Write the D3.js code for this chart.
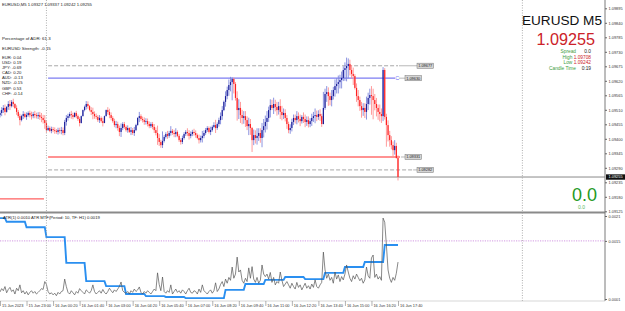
<!DOCTYPE html>
<html><head><meta charset="utf-8">
<script src="https://cdn.jsdelivr.net/npm/d3@7"></script>
<style>html,body{margin:0;padding:0;background:#fff;overflow:hidden}svg{display:block}text{font-family:"Liberation Sans",Arial,sans-serif}</style>
</head><body><svg id="c" width="625" height="311"></svg>
<script>
// ---------------- DATA ----------------
const symbol = "EURUSD";
const timeframe = "M5";
const firstOpen = 1.09490;
const closes = [1.09498,1.09509,1.09517,1.09502,1.09521,1.09532,1.09524,1.09540,1.09532,1.09517,
1.09502,1.09486,1.09471,1.09486,1.09494,1.09483,1.09490,1.09498,1.09490,1.09486,
1.09494,1.09490,1.09486,1.09490,1.09483,1.09479,1.09471,1.09460,1.09433,1.09441,
1.09430,1.09437,1.09433,1.09430,1.09426,1.09433,1.09430,1.09433,1.09422,1.09464,
1.09479,1.09486,1.09494,1.09490,1.09483,1.09498,1.09486,1.09475,1.09460,1.09486,
1.09509,1.09521,1.09532,1.09524,1.09509,1.09502,1.09494,1.09486,1.09483,1.09471,
1.09479,1.09467,1.09460,1.09486,1.09509,1.09502,1.09490,1.09479,1.09467,1.09452,
1.09456,1.09441,1.09426,1.09441,1.09456,1.09445,1.09433,1.09441,1.09426,1.09433,
1.09422,1.09433,1.09452,1.09479,1.09486,1.09475,1.09471,1.09464,1.09467,1.09456,
1.09448,1.09456,1.09445,1.09433,1.09422,1.09403,1.09388,1.09376,1.09392,1.09407,
1.09418,1.09411,1.09422,1.09430,1.09422,1.09418,1.09426,1.09411,1.09395,1.09388,
1.09403,1.09418,1.09426,1.09422,1.09411,1.09418,1.09426,1.09422,1.09414,1.09403,
1.09395,1.09403,1.09411,1.09422,1.09433,1.09441,1.09426,1.09433,1.09445,1.09452,
1.09441,1.09456,1.09471,1.09486,1.09509,1.09540,1.09562,1.09585,1.09604,1.09615,
1.09627,1.09608,1.09555,1.09509,1.09517,1.09490,1.09479,1.09486,1.09471,1.09448,
1.09456,1.09441,1.09395,1.09414,1.09403,1.09411,1.09422,1.09403,1.09433,1.09448,
1.09464,1.09479,1.09509,1.09528,1.09517,1.09532,1.09521,1.09509,1.09524,1.09502,
1.09490,1.09498,1.09479,1.09456,1.09433,1.09441,1.09464,1.09479,1.09471,1.09486,
1.09475,1.09467,1.09483,1.09475,1.09464,1.09471,1.09456,1.09467,1.09479,1.09486,
1.09490,1.09483,1.09494,1.09486,1.09456,1.09517,1.09570,1.09577,1.09562,1.09547,
1.09562,1.09585,1.09600,1.09608,1.09615,1.09623,1.09631,1.09661,1.09668,1.09676,
1.09684,1.09661,1.09646,1.09638,1.09593,1.09562,1.09547,1.09524,1.09509,1.09517,
1.09502,1.09532,1.09555,1.09566,1.09562,1.09547,1.09532,1.09517,1.09502,1.09494,
1.09486,1.09661,1.09483,1.09452,1.09414,1.09395,1.09376,1.09357,1.09373,1.09327,
1.09255];
const highs = [1.09508,1.09520,1.09528,1.09530,1.09524,1.09543,1.09547,1.09547,1.09552,1.09535,
1.09527,1.09509,1.09495,1.09491,1.09505,1.09500,1.09500,1.09504,1.09507,1.09503,
1.09502,1.09506,1.09499,1.09501,1.09502,1.09498,1.09491,1.09490,1.09468,1.09450,
1.09447,1.09446,1.09445,1.09443,1.09437,1.09442,1.09442,1.09445,1.09443,1.09472,
1.09490,1.09495,1.09501,1.09506,1.09499,1.09501,1.09506,1.09492,1.09482,1.09488,
1.09511,1.09526,1.09543,1.09542,1.09528,1.09520,1.09518,1.09504,1.09496,1.09490,
1.09490,1.09485,1.09480,1.09488,1.09511,1.09520,1.09514,1.09500,1.09486,1.09476,
1.09468,1.09465,1.09450,1.09458,1.09463,1.09464,1.09451,1.09451,1.09444,1.09445,
1.09441,1.09445,1.09457,1.09482,1.09502,1.09493,1.09484,1.09481,1.09478,1.09477,
1.09466,1.09463,1.09464,1.09456,1.09443,1.09450,1.09418,1.09396,1.09428,1.09414,
1.09425,1.09430,1.09430,1.09448,1.09437,1.09434,1.09440,1.09432,1.09418,1.09402,
1.09412,1.09425,1.09433,1.09440,1.09433,1.09428,1.09434,1.09438,1.09432,1.09420,
1.09416,1.09412,1.09430,1.09432,1.09441,1.09448,1.09447,1.09446,1.09451,1.09463,
1.09472,1.09462,1.09480,1.09500,1.09524,1.09545,1.09580,1.09598,1.09625,1.09635,
1.09633,1.09632,1.09615,1.09580,1.09550,1.09540,1.09510,1.09505,1.09505,1.09485,
1.09480,1.09475,1.09445,1.09435,1.09432,1.09440,1.09440,1.09440,1.09460,1.09475,
1.09488,1.09505,1.09522,1.09550,1.09548,1.09556,1.09548,1.09540,1.09540,1.09550,
1.09525,1.09515,1.09512,1.09490,1.09465,1.09455,1.09476,1.09492,1.09492,1.09505,
1.09500,1.09492,1.09490,1.09500,1.09492,1.09485,1.09485,1.09478,1.09495,1.09502,
1.09515,1.09507,1.09508,1.09512,1.09495,1.09578,1.09590,1.09600,1.09595,1.09575,
1.09585,1.09597,1.09625,1.09630,1.09640,1.09643,1.09655,1.09675,1.09690,1.09708,
1.09705,1.09700,1.09680,1.09670,1.09645,1.09610,1.09585,1.09560,1.09540,1.09535,
1.09535,1.09560,1.09575,1.09590,1.09600,1.09590,1.09570,1.09555,1.09530,1.09530,
1.09515,1.09672,1.09668,1.09495,1.09470,1.09430,1.09410,1.09390,1.09395,1.09385,
1.09337];
const lows = [1.09481,1.09486,1.09498,1.09489,1.09499,1.09510,1.09509,1.09519,1.09520,1.09513,
1.09491,1.09479,1.09451,1.09466,1.09475,1.09478,1.09472,1.09484,1.09481,1.09473,
1.09478,1.09478,1.09477,1.09475,1.09472,1.09463,1.09458,1.09438,1.09423,1.09430,
1.09425,1.09421,1.09425,1.09419,1.09419,1.09416,1.09420,1.09417,1.09413,1.09414,
1.09450,1.09469,1.09479,1.09476,1.09474,1.09481,1.09478,1.09468,1.09447,1.09458,
1.09485,1.09504,1.09511,1.09514,1.09504,1.09490,1.09474,1.09476,1.09474,1.09464,
1.09460,1.09461,1.09447,1.09459,1.09485,1.09492,1.09478,1.09470,1.09461,1.09444,
1.09440,1.09431,1.09410,1.09407,1.09433,1.09438,1.09427,1.09423,1.09422,1.09414,
1.09415,1.09411,1.09429,1.09450,1.09463,1.09468,1.09462,1.09453,1.09454,1.09447,
1.09440,1.09441,1.09436,1.09422,1.09413,1.09377,1.09373,1.09366,1.09365,1.09386,
1.09401,1.09400,1.09404,1.09412,1.09415,1.09406,1.09406,1.09406,1.09388,1.09378,
1.09380,1.09397,1.09411,1.09410,1.09397,1.09402,1.09410,1.09412,1.09404,1.09398,
1.09382,1.09386,1.09386,1.09402,1.09415,1.09426,1.09420,1.09414,1.09427,1.09440,
1.09422,1.09434,1.09446,1.09455,1.09472,1.09505,1.09522,1.09550,1.09563,1.09580,
1.09546,1.09572,1.09545,1.09469,1.09475,1.09460,1.09455,1.09457,1.09445,1.09433,
1.09414,1.09415,1.09350,1.09376,1.09382,1.09378,1.09392,1.09385,1.09368,1.09405,
1.09424,1.09435,1.09464,1.09481,1.09509,1.09494,1.09504,1.09488,1.09492,1.09475,
1.09470,1.09475,1.09466,1.09438,1.09421,1.09419,1.09428,1.09452,1.09458,1.09455,
1.09462,1.09448,1.09458,1.09460,1.09444,1.09449,1.09443,1.09444,1.09449,1.09464,
1.09459,1.09467,1.09472,1.09468,1.09445,1.09455,1.09510,1.09540,1.09525,1.09527,
1.09523,1.09549,1.09560,1.09572,1.09572,1.09591,1.09591,1.09619,1.09620,1.09618,
1.09630,1.09640,1.09628,1.09604,1.09587,1.09540,1.09523,1.09506,1.09480,1.09487,
1.09479,1.09473,1.09509,1.09530,1.09491,1.09474,1.09508,1.09485,1.09472,1.09466,
1.09460,1.09467,1.09473,1.09370,1.09390,1.09370,1.09360,1.09328,1.09340,1.09325,
1.09242];
// ATR(1) per bar
const atr1 = [0.00027,0.00035,0.00030,0.00040,0.00025,0.00033,0.00038,0.00028,0.00032,0.00022,0.00036,0.00030,0.00044,0.00025,0.00030,0.00022,0.00028,0.00020,0.00026,0.00030,0.00024,0.00028,0.00022,0.00026,0.00030,0.00035,0.00033,0.00052,
0.00045,0.00028,0.00022,0.00025,0.00020,0.00024,0.00018,0.00026,0.00022,0.00028,0.00030,0.00058,0.00040,0.00026,0.00022,0.00030,0.00025,0.00020,0.00028,0.00024,
0.00035,0.00030,0.00026,0.00022,0.00032,0.00028,0.00024,0.00030,0.00044,0.00028,0.00022,0.00026,0.00030,0.00024,0.00033,0.00026,0.00022,0.00028,0.00036,0.00030,0.00025,0.00032,0.00028,0.00034,0.00040,0.00051,0.00030,0.00026,
0.00024,0.00028,0.00022,0.00030,0.00026,0.00034,0.00028,0.00032,0.00039,0.00026,0.00022,0.00028,0.00024,0.00030,0.00026,0.00022,0.00028,0.00034,0.00030,0.00073,0.00045,0.00030,0.00063,0.00028,0.00024,
0.00030,0.00026,0.00044,0.00022,0.00028,0.00034,0.00026,0.00030,0.00024,0.00032,0.00028,0.00022,0.00030,0.00036,0.00026,0.00024,0.00030,0.00028,0.00022,0.00034,0.00026,0.00044,0.00030,0.00026,0.00022,0.00028,0.00032,0.00024,0.00030,0.00049,0.00028,0.00034,
0.00045,0.00052,0.00040,0.00058,0.00048,0.00062,0.00055,0.00087,0.00060,0.00070,0.00111,0.00075,0.00080,0.00055,0.00048,0.00060,0.00052,0.00085,0.00060,0.00088,0.00058,0.00050,0.00062,0.00048,0.00055,0.00092,0.00070,0.00064,
0.00070,0.00058,0.00074,0.00050,0.00062,0.00044,0.00052,0.00048,0.00075,0.00055,0.00040,0.00046,0.00052,0.00044,0.00036,0.00048,0.00040,0.00034,0.00050,0.00038,0.00044,0.00032,0.00040,0.00048,0.00036,0.00042,0.00034,0.00046,0.00038,0.00056,0.00040,0.00036,0.00044,0.00050,
0.00123,0.00080,0.00060,0.00070,0.00055,0.00062,0.00048,0.00075,0.00058,0.00068,0.00052,0.00064,0.00056,0.00070,0.00092,0.00075,0.00060,0.00052,0.00066,0.00058,0.00070,0.00062,0.00054,0.00060,0.00048,0.00056,0.00087,0.00066,0.00060,0.00109,0.00116,0.00062,0.00070,0.00058,0.00064,0.00055,0.00205,0.00195,0.00140,0.00080,0.00060,0.00050,0.00062,0.00055,0.00072,0.00099];
// ATR MTF (H1) one value per hour, 15 Jun 21:00 .. 16 Jun 17:00
const mtfHours = ["21:00","22:00","23:00","00:00","01:00","02:00","03:00","04:00","05:00","06:00","07:00","08:00","09:00","10:00","11:00","12:00","13:00","14:00","15:00","16:00","17:00"];
const mtfValues = [0.00205,0.00196,0.00183,0.00159,0.00097,0.00053,0.00041,0.00022,0.00017,0.00015,0.00012,0.00012,0.00032,0.00046,0.00056,0.00063,0.00058,0.00073,0.00087,0.00099,0.00140];
const firstBarMinute = 40; // first bar opens at 21:40
const tickBars = [0,16,32,48,64,80,96,112,128,144,160,176,192,208,224,240];
const tickLabels = ["15 Jun 2023","15 Jun 23:00","16 Jun 00:20","16 Jun 01:40","16 Jun 03:00","16 Jun 04:20","16 Jun 05:40","16 Jun 07:00","16 Jun 08:20","16 Jun 09:40","16 Jun 11:00","16 Jun 12:20","16 Jun 13:40","16 Jun 15:00","16 Jun 16:20","16 Jun 17:40"];
const priceTicks = [1.09895,1.09840,1.09785,1.09730,1.09675,1.09620,1.09565,1.09510,1.09455,1.09400,1.09345,1.09290,1.09235,1.09180,1.09125];
const indTicks = [0.0021,0.0015,0.0001];
const indLevel = 0.0015;
const currentPrice = 1.09255;
const levelPrices = [1.09677,1.09630,1.09331,1.09282];
const levelLabels = ["1.09677","1.09630","1.09331","1.09282"];
const prevLevel = 1.09172;
const dayStartBar = 28;
const shiftBar = 315;
const currencies = ["EUR","USD","JPY","CAD","AUD","NZD","GBP","CHF"];
const strengths = [0.04,0.19,-0.69,0.20,-0.13,-0.15,0.53,-0.14];
const adrPct = 61.3;
const pairStrength = -0.15;
const ohlcHeader = [1.09327,1.09337,1.09242,1.09255];
const dayHigh = 1.09708, dayLow = 1.09242, spread = "0.0", candleTime = "0:19";
const atr1Now = "0.0010", mtfNow = "0.0019";

// ---------------- CHART ----------------
const W=625,H=311, axisX=605;
const svg=d3.select("#c");
svg.append("rect").attr("width",W).attr("height",H).attr("fill","#fff");
const x=d3.scaleLinear().domain([0,240]).range([0,398]);
const y=d3.scaleLinear().domain([1.09125,1.09895]).range([211.3,8.3]);
const yi=d3.scaleLinear().domain([0.0001,0.0021]).range([299,216]);

const defs=svg.append("defs");
defs.append("clipPath").attr("id","cm").append("rect").attr("x",0).attr("y",0).attr("width",axisX).attr("height",212);
defs.append("clipPath").attr("id","ci").append("rect").attr("x",0).attr("y",213).attr("width",axisX).attr("height",88);

const main=svg.append("g").attr("clip-path","url(#cm)");
const ind=svg.append("g").attr("clip-path","url(#ci)");

// vertical dotted separators
[dayStartBar, shiftBar].forEach(b=>{
  svg.append("line").attr("x1",x(b)).attr("x2",x(b)).attr("y1",0).attr("y2",301)
    .attr("stroke","#9a9a9a").attr("stroke-width",0.8).attr("stroke-dasharray","1,1.5");
});

// levels
const lvlStyle=[
  {c:"#a8a8a8",w:1,d:"4,2",end:240,box:19},
  {c:"#7c7cf2",w:1.3,d:null,end:238.2,box:7},
  {c:"#ff6e6e",w:1.3,d:null,end:241.2,box:7},
  {c:"#a8a8a8",w:1,d:"4,2",end:248.5,box:19}
];
levelPrices.forEach((p,k)=>{
  const s=lvlStyle[k];
  const l=main.append("line").attr("x1",x(29)).attr("x2",x(s.end)).attr("y1",y(p)).attr("y2",y(p))
    .attr("stroke",s.c).attr("stroke-width",s.w);
  if(s.d) l.attr("stroke-dasharray",s.d);
  const bx=x(240)+s.box;
  main.append("line").attr("x1",x(s.end)+ (k==1?4:1)).attr("x2",bx).attr("y1",y(p)).attr("y2",y(p)).attr("stroke","#888").attr("stroke-width",0.6);
  main.append("rect").attr("x",bx).attr("y",y(p)-2.6).attr("width",16.5).attr("height",5.2)
    .attr("fill","#d4d4d4").attr("stroke","#777").attr("stroke-width",0.5);
  main.append("text").attr("x",bx+8.25).attr("y",y(p)+1.4).attr("text-anchor","middle")
    .attr("font-size",3.9).attr("fill","#222").text(levelLabels[k]);
});
main.append("text").attr("x",x(239.5)).attr("y",y(levelPrices[1])+1.9).attr("text-anchor","middle")
  .attr("font-size",5.4).attr("fill","#6c6cf0").text("C");
main.append("line").attr("x1",x(0)).attr("x2",x(26.5)).attr("y1",y(prevLevel)).attr("y2",y(prevLevel))
  .attr("stroke","#ff6060").attr("stroke-width",1.2);

// current price line
main.append("line").attr("x1",0).attr("x2",axisX).attr("y1",y(currentPrice)).attr("y2",y(currentPrice))
  .attr("stroke","#8a8a8a").attr("stroke-width",1);

// candles
const bars=closes.map((c,i)=>({i,o:i===0?firstOpen:closes[i-1],c,h:highs[i],l:lows[i]}));
const cg=main.append("g");
cg.selectAll("line.w").data(bars).join("line").attr("class","w")
  .attr("x1",d=>x(d.i)).attr("x2",d=>x(d.i)).attr("y1",d=>y(d.h)).attr("y2",d=>y(d.l))
  .attr("stroke",d=>d.c>=d.o?"#7f88dc":"#ff9090").attr("stroke-width",0.9);
cg.selectAll("rect.b").data(bars).join("rect").attr("class","b")
  .attr("x",d=>x(d.i)-0.6).attr("width",1.2)
  .attr("y",d=>Math.min(y(d.o),y(d.c)))
  .attr("height",d=>Math.max(0.8,Math.abs(y(d.o)-y(d.c))))
  .attr("fill",d=>d.c>=d.o?"#1a1e98":"#ff2020");

// separator between panes
svg.append("line").attr("x1",0).attr("x2",axisX).attr("y1",212.5).attr("y2",212.5).attr("stroke","#8a8a8a").attr("stroke-width",2);

// indicator pane
ind.append("line").attr("x1",0).attr("x2",axisX).attr("y1",yi(indLevel)).attr("y2",yi(indLevel))
  .attr("stroke","#c77ddb").attr("stroke-width",0.8).attr("stroke-dasharray","1.2,1.2");
const mtfBar=closes.map((c,i)=>mtfValues[Math.floor((i+firstBarMinute/5)/12)]);
ind.append("path").datum(mtfBar).attr("fill","none").attr("stroke","#2a8ff0").attr("stroke-width",1.9)
  .attr("d",d3.line().x((d,i)=>x(i)).y(d=>yi(d)));
ind.append("path").datum(atr1).attr("fill","none").attr("stroke","#555").attr("stroke-width",0.7)
  .attr("d",d3.line().x((d,i)=>x(i)).y(d=>yi(d)));
svg.append("text").attr("x",3).attr("y",218.6).attr("font-size",4.2).attr("fill","#222")
  .text(`ATR(1) ${atr1Now}  ATR MTF(Period: 10, TF: H1) ${mtfNow}`);

// axes frame
svg.append("line").attr("x1",axisX).attr("x2",axisX).attr("y1",0).attr("y2",301).attr("stroke","#7a7a7a").attr("stroke-width",1);
svg.append("line").attr("x1",0).attr("x2",axisX).attr("y1",301).attr("y2",301).attr("stroke","#bdbdbd").attr("stroke-width",0.6);

// price axis
const ay=svg.append("g").attr("transform",`translate(${axisX},0)`)
  .call(d3.axisRight(y).tickValues(priceTicks).tickFormat(d3.format(".5f")).tickSize(2).tickPadding(1.5));
ay.select(".domain").remove();
ay.selectAll("text").attr("font-size",3.9).attr("fill","#333").attr("font-family","Liberation Sans, Arial, sans-serif");
ay.selectAll("line").attr("stroke","#666");
svg.append("rect").attr("x",axisX+1).attr("y",y(currentPrice)-2.7).attr("width",19).attr("height",5.4).attr("fill","#111");
svg.append("text").attr("x",axisX+3.5).attr("y",y(currentPrice)+1.4).attr("font-size",3.9).attr("fill","#fff").text(d3.format(".5f")(currentPrice));

// indicator axis
const ai=svg.append("g").attr("transform",`translate(${axisX},0)`)
  .call(d3.axisRight(yi).tickValues(indTicks).tickFormat(d3.format(".4f")).tickSize(2).tickPadding(1.5));
ai.select(".domain").remove();
ai.selectAll("text").attr("font-size",3.9).attr("fill","#333").attr("font-family","Liberation Sans, Arial, sans-serif");
ai.selectAll("line").attr("stroke","#666");

// time axis
const tg=svg.append("g");
tickBars.forEach((b,k)=>{
  tg.append("line").attr("x1",x(b)+0.5).attr("x2",x(b)+0.5).attr("y1",301).attr("y2",306).attr("stroke","#666").attr("stroke-width",0.5);
  tg.append("text").attr("x",x(b)+2).attr("y",306.5).attr("font-size",3.9).attr("fill","#333").text(tickLabels[k]);
});

// top-left info
svg.append("text").attr("x",2).attr("y",5.5).attr("font-size",4.2).attr("fill","#222")
  .text(`${symbol},${timeframe}  ${ohlcHeader.map(d3.format(".5f")).join(" ")}`);
svg.append("text").attr("x",2).attr("y",40).attr("font-size",4.4).attr("fill","#222").text(`Percentage of ADR: ${adrPct}`);
svg.append("text").attr("x",2).attr("y",50).attr("font-size",4.4).attr("fill","#222").text(`${symbol} Strength: ${pairStrength}`);
currencies.forEach((c,k)=>{
  svg.append("text").attr("x",2).attr("y",58.7+k*5.14).attr("font-size",4.2).attr("fill","#222")
    .text(`${c}: ${strengths[k].toFixed(2)}`);
});

// top-right info block
svg.append("text").attr("x",602).attr("y",25).attr("text-anchor","end").attr("font-size",13.6).attr("fill","#111").text(`${symbol} ${timeframe}`);
svg.append("text").attr("x",595).attr("y",45.2).attr("text-anchor","end").attr("font-size",16.2).attr("fill","#cc2229").text(d3.format(".5f")(currentPrice));
const green="#3e9d3e";
const rows=[52.9,58.5,64.1,69.8];
svg.append("text").attr("x",576).attr("y",rows[0]).attr("text-anchor","end").attr("font-size",4.8).attr("fill",green).text("Spread");
svg.append("text").attr("x",591).attr("y",rows[0]).attr("text-anchor","end").attr("font-size",4.8).attr("fill","#222").text(spread);
const hi=svg.append("text").attr("x",591).attr("y",rows[1]).attr("text-anchor","end").attr("font-size",4.8);
hi.append("tspan").attr("fill",green).text("High ");
hi.append("tspan").attr("fill","#cc2229").text(d3.format(".5f")(dayHigh));
const lo=svg.append("text").attr("x",591).attr("y",rows[2]).attr("text-anchor","end").attr("font-size",4.8);
lo.append("tspan").attr("fill",green).text("Low ");
lo.append("tspan").attr("fill","#cc2229").text(d3.format(".5f")(dayLow));
svg.append("text").attr("x",576).attr("y",rows[3]).attr("text-anchor","end").attr("font-size",4.8).attr("fill",green).text("Candle Time");
svg.append("text").attr("x",591).attr("y",rows[3]).attr("text-anchor","end").attr("font-size",4.8).attr("fill","#222").text(candleTime);

// bottom-right spread display
svg.append("text").attr("x",597).attr("y",200.6).attr("text-anchor","end").attr("font-size",18).attr("fill","#1f9a1f").text(spread);
svg.append("text").attr("x",581.5).attr("y",209).attr("text-anchor","middle").attr("font-size",5).attr("fill","#5cb85c").text(spread);
</script></body></html>
